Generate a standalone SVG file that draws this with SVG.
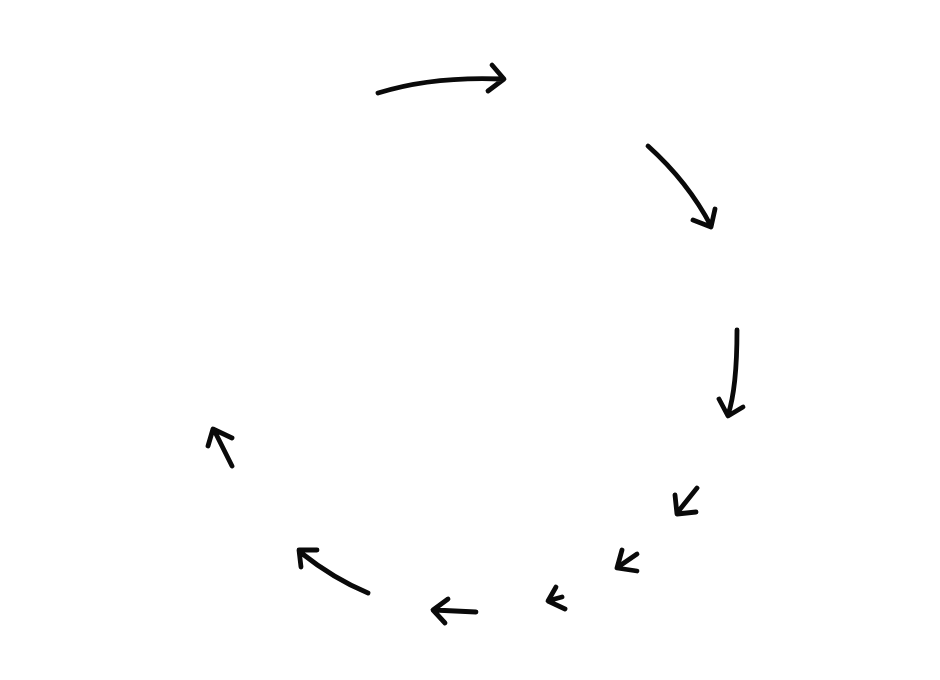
<svg xmlns="http://www.w3.org/2000/svg" width="940" height="680" viewBox="0 0 940 680">
<style>
.a{fill:none;stroke:#0a0a0a;stroke-width:4.8;stroke-linecap:round;stroke-linejoin:round}
.s{stroke-width:4.8}
</style>
<rect width="940" height="680" fill="#fff"/>
<g id="connectors">
<path id="arrow1" class="a" d="M378 93 Q432 76 503 79 M492 65 L504 79 L488 91"/>
<path id="arrow2" class="a" d="M648 146 Q688 182 711 226 M693 220 L711 227 L715 209"/>
<path id="arrow3" class="a" d="M737 330 Q737 388 728 415 M719 399 L728 416 L743 407"/>
<path id="arrow4" class="a s" d="M697 488 L677 513 M675 495 L677 514 L696 512"/>
<path id="arrow5" class="a s" d="M637 554 L618 567 M622 550 L617 568 L637 571"/>
<path id="arrow6" class="a s" d="M556 587 L548 601 L565 609 M562 597 L551 600"/>
<path id="arrow7" class="a" d="M476 612 L434 610 M448 599 L433 610 L445 623"/>
<path id="arrow8" class="a" d="M368 593 Q334 579 300 552 M317 550 L299 550 L301 567"/>
<path id="arrow9" class="a" d="M232 466 L214 430 M208 446 L213 429 L232 438"/>
</g>
</svg>
